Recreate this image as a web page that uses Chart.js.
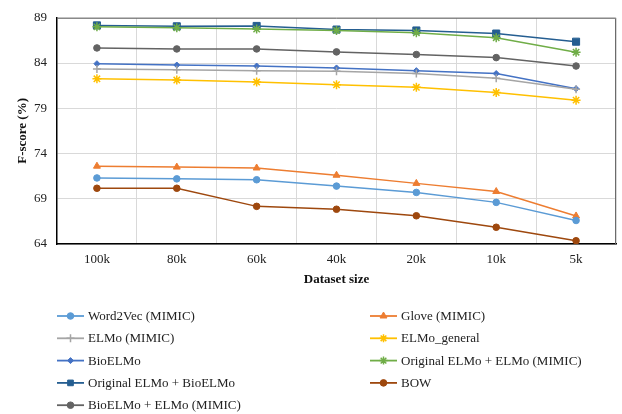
<!DOCTYPE html>
<html>
<head>
<meta charset="utf-8">
<script src="https://cdn.jsdelivr.net/npm/chart.js@4"></script>
<style>
  html, body { margin: 0; padding: 0; background: #fff; }
  #wrap { width: 622px; height: 414px; }
</style>
</head>
<body>
<div id="wrap"><canvas id="fscoreChart" width="622" height="414"></canvas></div>
<script>
var sizes = ['100k', '80k', '60k', '40k', '20k', '10k', '5k'];

var word2vec = [71.3, 71.2, 71.1, 70.4, 69.7, 68.6, 66.6];
var glove = [72.6, 72.5, 72.4, 71.6, 70.7, 69.8, 67.1];
var elmoMimic = [83.35, 83.27, 83.16, 83.1, 82.84, 82.33, 81.1];
var elmoGeneral = [82.26, 82.12, 81.9, 81.6, 81.32, 80.74, 79.9];
var bioElmo = [83.93, 83.78, 83.67, 83.46, 83.16, 82.84, 81.17];
var origElmoMimic = [88.0, 87.9, 87.75, 87.6, 87.35, 86.8, 85.2];
var origElmoBio = [88.16, 88.06, 88.1, 87.7, 87.6, 87.26, 86.36];
var bow = [70.16, 70.16, 68.16, 67.84, 67.12, 65.85, 64.36];
var bioElmoMimic = [85.67, 85.56, 85.56, 85.23, 84.94, 84.6, 83.67];

var yTicks = [64, 69, 74, 79, 84, 89];

var serif = "'Liberation Serif', 'Times New Roman', serif";

function series(label, data, color, style, radius) {
  return {
    label: label,
    data: data,
    borderColor: color,
    backgroundColor: color,
    borderWidth: 1.5,
    pointStyle: style,
    pointRadius: radius,
    pointHoverRadius: radius,
    pointBorderWidth: style == 'cross' || style == 'star' ? 1.5 : 1,
    tension: 0,
    fill: false,
  };
}

var datasets = [
  series('Word2Vec (MIMIC)', word2vec, '#5B9BD5', 'circle', 3.3),
  series('Glove (MIMIC)', glove, '#ED7D31', 'triangle', 4),
  series('ELMo (MIMIC)', elmoMimic, '#A5A5A5', 'cross', 4),
  series('ELMo_general', elmoGeneral, '#FFC000', 'star', 4.5),
  series('BioELMo', bioElmo, '#4472C4', 'rectRot', 3),
  series('Original ELMo + ELMo (MIMIC)', origElmoMimic, '#70AD47', 'star', 4.5),
  series('Original ELMo + BioELMo', origElmoBio, '#255E91', 'rect', 5),
  series('BOW', bow, '#9E480E', 'circle', 3.3),
  series('BioELMo + ELMo (MIMIC)', bioElmoMimic, '#636363', 'circle', 3.3),
];

// frame on top/right plus a two column legend under the plot
var frameAndLegend = {
  id: 'frameAndLegend',
  beforeDatasetsDraw(chart) {
    var a = chart.chartArea;
    var ctx = chart.ctx;
    ctx.save();
    ctx.strokeStyle = '#6b6b6b';
    ctx.lineWidth = 1;
    ctx.beginPath();
    ctx.moveTo(a.left, a.top + 0.5);
    ctx.lineTo(a.right - 0.5, a.top + 0.5);
    ctx.lineTo(a.right - 0.5, a.bottom);
    ctx.stroke();
    ctx.restore();
  },
  afterDraw(chart) {
    var ctx = chart.ctx;
    ctx.save();
    chart.data.datasets.forEach((ds, i) => {
      var x0 = i % 2 == 0 ? 57 : 370;
      var y = 316 + Math.floor(i / 2) * 22.3;
      ctx.strokeStyle = ds.borderColor;
      ctx.fillStyle = ds.backgroundColor;
      ctx.lineWidth = 1.8;
      ctx.beginPath();
      ctx.moveTo(x0, y);
      ctx.lineTo(x0 + 27, y);
      ctx.stroke();
      ctx.lineWidth = ds.pointBorderWidth;
      var r = Math.min(ds.pointRadius, 4);
      if (Chart.helpers && Chart.helpers.drawPoint) {
        Chart.helpers.drawPoint(ctx, {
          pointStyle: ds.pointStyle,
          rotation: 0,
          radius: r,
          borderWidth: ds.pointBorderWidth,
        }, x0 + 13.5, y);
      } else {
        ctx.beginPath();
        ctx.arc(x0 + 13.5, y, 3, 0, Math.PI * 2);
        ctx.fill();
      }
      ctx.fillStyle = '#222';
      ctx.font = '13px ' + serif;
      ctx.textBaseline = 'middle';
      ctx.textAlign = 'left';
      ctx.fillText(ds.label, x0 + 31, y + 0.5);
    });
    ctx.restore();
  },
};

var ctx = document.getElementById('fscoreChart').getContext('2d');
var fscoreChart = new Chart(ctx, {
  type: 'line',
  data: {
    labels: sizes,
    datasets: datasets,
  },
  plugins: [frameAndLegend],
  options: {
    responsive: false,
    animation: false,
    devicePixelRatio: 1,
    layout: {
      padding: { top: 14, right: 6, bottom: 124, left: 0 },
    },
    plugins: {
      legend: { display: false },
      tooltip: { enabled: false },
    },
    scales: {
      x: {
        offset: true,
        grid: {
          offset: true,
          color: '#d9d9d9',
          drawTicks: false,
        },
        border: { color: '#000', width: 1.5 },
        ticks: {
          padding: 8,
          color: '#222',
          font: { family: serif, size: 13 },
        },
        title: {
          display: true,
          text: 'Dataset size',
          color: '#111',
          font: { family: serif, size: 13, weight: 'bold' },
          padding: { top: 2, bottom: 3 },
        },
        afterFit(scale) {
          scale.height = 46;
        },
      },
      y: {
        min: 64,
        max: 89,
        afterBuildTicks(scale) {
          scale.ticks = yTicks.map((v) => ({ value: v }));
        },
        grid: {
          color: '#d9d9d9',
          drawTicks: false,
        },
        border: { color: '#000', width: 1.5 },
        ticks: {
          padding: 10,
          color: '#222',
          font: { family: serif, size: 13 },
        },
        title: {
          display: true,
          text: 'F-score (%)',
          color: '#111',
          font: { family: serif, size: 13, weight: 'bold' },
          padding: { top: 15, bottom: 0 },
        },
        afterFit(scale) {
          scale.width = 57;
        },
      },
    },
  },
});
</script>
</body>
</html>
